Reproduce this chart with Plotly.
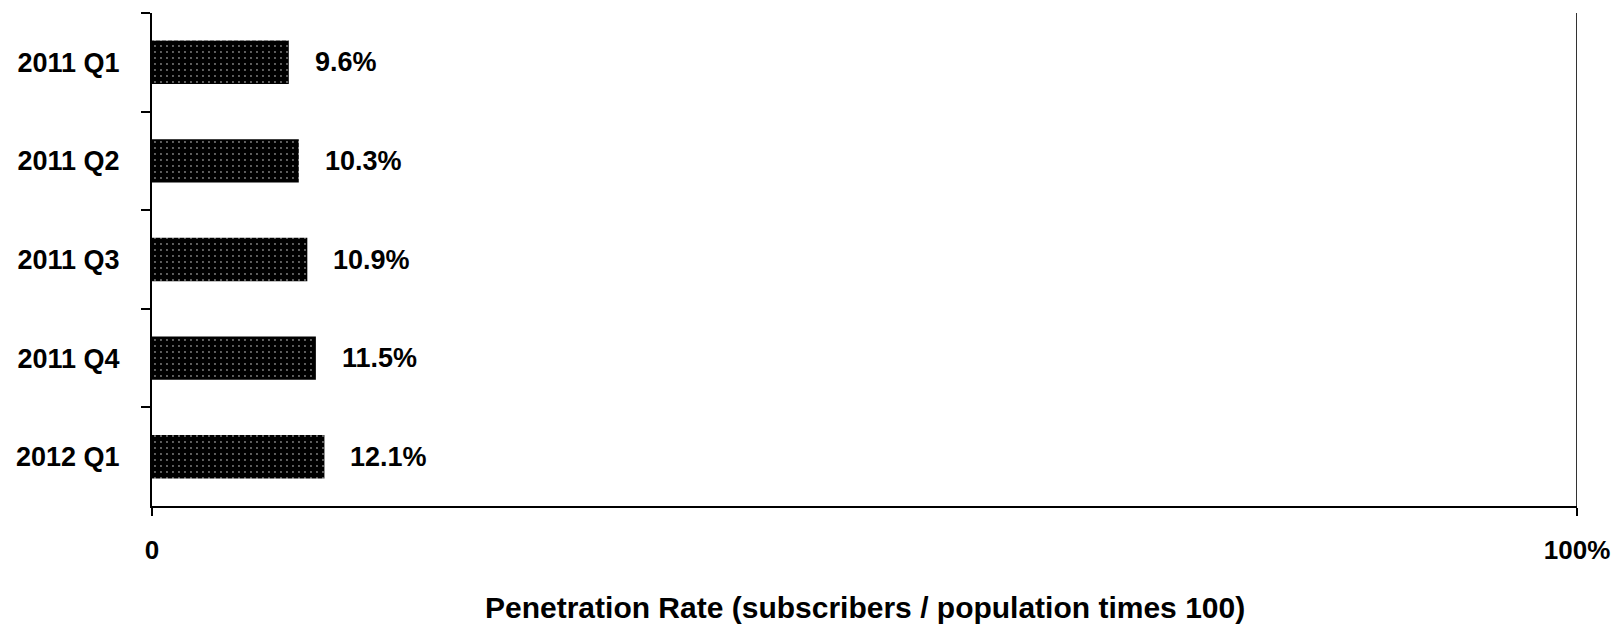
import plotly.graph_objects as go

categories = ["2011 Q1", "2011 Q2", "2011 Q3", "2011 Q4", "2012 Q1"]
rates = [9.6, 10.3, 10.9, 11.5, 12.1]
value_labels = ["9.6%", "10.3%", "10.9%", "11.5%", "12.1%"]
tick_vals = [0, 100]
tick_text = ["0", "100%"]
axis_title = "Penetration Rate (subscribers / population times 100)"

FONT = "Liberation Sans, Arial, sans-serif"

fig = go.Figure()
fig.add_trace(go.Bar(
    y=categories,
    x=rates,
    orientation="h",
    width=0.44,
    marker=dict(
        color="black",
        line=dict(width=0),
        pattern=dict(shape=".", fgcolor="white", bgcolor="black", size=6, solidity=0.08),
    ),
    hoverinfo="skip",
))

for cat, val, lab in zip(categories, rates, value_labels):
    fig.add_annotation(
        x=val, y=cat, xref="x", yref="y", text=lab, showarrow=False,
        xanchor="left", yanchor="middle", xshift=24,
        font=dict(family=FONT, size=27, color="black", weight="bold"),
    )

fig.add_annotation(
    x=0.5, y=0, xref="paper", yref="paper", text=axis_title, showarrow=False,
    xanchor="center", yanchor="middle", yshift=-101,
    font=dict(family=FONT, size=30, color="black", weight="bold"),
)

# right frame line at 100%
fig.add_shape(type="line", xref="x", yref="paper", x0=100, x1=100, y0=0, y1=1,
              line=dict(color="#333333", width=2))

# page body has an 8px default margin, so the figure is sized to fit the window
fig.update_layout(
    width=1613, height=618,
    margin=dict(l=144, r=44, t=5, b=120),
    paper_bgcolor="white", plot_bgcolor="white",
    showlegend=False,
)
fig.update_xaxes(
    range=[0, 100], tickvals=tick_vals, ticktext=tick_text,
    showgrid=False, zeroline=False,
    showline=True, linecolor="black", linewidth=2,
    ticks="outside", ticklen=8, tickwidth=2, tickcolor="black",
    ticklabelstandoff=12,
    tickfont=dict(family=FONT, size=26, color="black", weight="bold"),
)
fig.update_yaxes(
    categoryorder="array", categoryarray=categories, autorange="reversed",
    showgrid=False, zeroline=False,
    showline=True, linecolor="black", linewidth=2,
    ticks="outside", ticklen=9, tickwidth=2, tickcolor="black",
    tickson="boundaries", ticklabelstandoff=25,
    tickfont=dict(family=FONT, size=27, color="black", weight="bold"),
)

fig.write_html("out.html")
